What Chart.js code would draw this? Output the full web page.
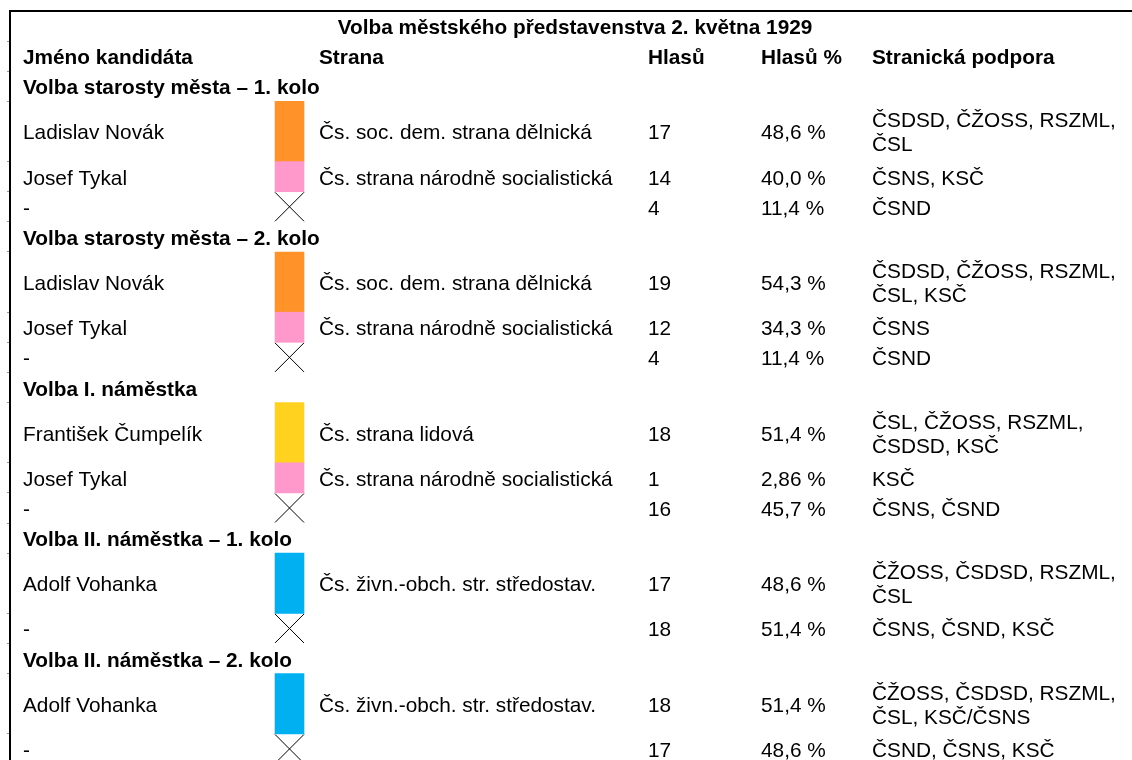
<!DOCTYPE html>
<html lang="cs">
<head>
<meta charset="utf-8">
<title>Volba městského představenstva 2. května 1929</title>
<script src="https://cdn.jsdelivr.net/npm/chart.js@4.4.1/dist/chart.umd.min.js"></script>
<style>
  html, body { margin: 0; padding: 0; background: #fff; overflow: hidden; }
  canvas { display: block; }
</style>
</head>
<body>
<canvas id="board" width="1132" height="764"></canvas>
<script>
// Table data
const title = 'Volba městského představenstva 2. května 1929';
const headers = ['Jméno kandidáta', 'Strana', 'Hlasů', 'Hlasů %', 'Stranická podpora'];
const sections = [
    'Volba starosty města – 1. kolo',
    'Volba starosty města – 2. kolo',
    'Volba I. náměstka',
    'Volba II. náměstka – 1. kolo',
    'Volba II. náměstka – 2. kolo'
];
const rowSection = [0, 0, 0, 1, 1, 1, 2, 2, 2, 3, 3, 4, 4];
const names = [
    'Ladislav Novák', 'Josef Tykal', '-',
    'Ladislav Novák', 'Josef Tykal', '-',
    'František Čumpelík', 'Josef Tykal', '-',
    'Adolf Vohanka', '-',
    'Adolf Vohanka', '-'
];
const parties = [
    'Čs. soc. dem. strana dělnická', 'Čs. strana národně socialistická', '',
    'Čs. soc. dem. strana dělnická', 'Čs. strana národně socialistická', '',
    'Čs. strana lidová', 'Čs. strana národně socialistická', '',
    'Čs. živn.-obch. str. středostav.', '',
    'Čs. živn.-obch. str. středostav.', ''
];
const partyColors = [
    '#FF9229', '#FF99CC', null,
    '#FF9229', '#FF99CC', null,
    '#FFD21F', '#FF99CC', null,
    '#00B0F0', null,
    '#00B0F0', null
];
const votes = [17, 14, 4, 19, 12, 4, 18, 1, 16, 17, 18, 18, 17];
const votePercents = [48.6, 40.0, 11.4, 54.3, 34.3, 11.4, 51.4, 2.86, 45.7, 48.6, 51.4, 51.4, 48.6];
const support = [
    ['ČSDSD, ČŽOSS, RSZML,', 'ČSL'], ['ČSNS, KSČ'], ['ČSND'],
    ['ČSDSD, ČŽOSS, RSZML,', 'ČSL, KSČ'], ['ČSNS'], ['ČSND'],
    ['ČSL, ČŽOSS, RSZML,', 'ČSDSD, KSČ'], ['KSČ'], ['ČSNS, ČSND'],
    ['ČŽOSS, ČSDSD, RSZML,', 'ČSL'], ['ČSNS, ČSND, KSČ'],
    ['ČŽOSS, ČSDSD, RSZML,', 'ČSL, KSČ/ČSNS'], ['ČSND, ČSNS, KSČ']
];

// Layout
const FONT = "'Liberation Sans', Arial, sans-serif";
const FONT_SIZE = 20.8;
const BASELINE_SHIFT = 8;     // px below row centre
const LINE_STEP = 24;         // px between wrapped lines
const colX = { name: 23, swatch: 289.5, party: 319, votes: 648, pct: 761, support: 872, title: 575 };

// work out the row grid (in row units)
let unit = 2; // title row + header row
const sectionTop = [];
const rowTop = [];
const rowSpan = [];
names.forEach(function (n, i) {
    if (i === 0 || rowSection[i] !== rowSection[i - 1]) {
        sectionTop.push(unit);
        unit += 1;
    }
    rowTop.push(unit);
    rowSpan.push(support[i].length);
    unit += support[i].length;
});
const totalUnits = unit;

const boundaries = [1, 2];
sectionTop.forEach(s => boundaries.push(s + 1));
rowTop.forEach((t, i) => boundaries.push(t + rowSpan[i]));
const tickUnits = [...new Set(boundaries)].filter(u => u < totalUnits).sort((a, b) => a - b);

function fmtPct(v) {
    return (v < 10 ? v.toFixed(2) : v.toFixed(1)).replace('.', ',') + ' %';
}

const swatchData = [];
const crossData = [];
const swatchColors = [];
names.forEach(function (n, i) {
    if (partyColors[i]) {
        swatchData.push({ x: colX.swatch, y: [rowTop[i], rowTop[i] + rowSpan[i]] });
        swatchColors.push(partyColors[i]);
    } else {
        crossData.push({ x: colX.swatch, y: rowTop[i] + rowSpan[i] / 2 });
    }
});

const tableText = {
    id: 'tableText',
    afterDatasetsDraw(chart) {
        const { ctx, scales: { x, y } } = chart;
        ctx.save();
        ctx.fillStyle = '#000';
        ctx.textBaseline = 'alphabetic';

        function put(text, col, centreUnit, bold, align) {
            ctx.font = (bold ? 'bold ' : '') + FONT_SIZE + 'px ' + FONT;
            ctx.textAlign = align || 'left';
            ctx.fillText(text, x.getPixelForValue(col), y.getPixelForValue(centreUnit) + BASELINE_SHIFT);
        }

        put(title, colX.title, 0.5, true, 'center');
        const hx = [colX.name, colX.party, colX.votes, colX.pct, colX.support];
        headers.forEach((h, k) => put(h, hx[k], 1.5, true));
        sections.forEach((s, k) => put(s, colX.name, sectionTop[k] + 0.5, true));

        names.forEach(function (n, i) {
            const mid = rowTop[i] + rowSpan[i] / 2;
            put(n, colX.name, mid, false);
            if (parties[i]) put(parties[i], colX.party, mid, false);
            put(String(votes[i]), colX.votes, mid, false);
            put(fmtPct(votePercents[i]), colX.pct, mid, false);
            const lines = support[i];
            ctx.font = FONT_SIZE + 'px ' + FONT;
            ctx.textAlign = 'left';
            lines.forEach(function (line, k) {
                const off = (k - (lines.length - 1) / 2) * LINE_STEP;
                ctx.fillText(line, x.getPixelForValue(colX.support),
                    y.getPixelForValue(mid) + BASELINE_SHIFT + off);
            });
        });
        ctx.restore();
    }
};

new Chart(document.getElementById('board'), {
    type: 'bar',
    data: {
        datasets: [{
            label: 'Strana',
            data: swatchData,
            backgroundColor: swatchColors,
            borderWidth: 0,
            barThickness: 29
        }, {
            type: 'scatter',
            label: 'bez strany',
            data: crossData,
            pointStyle: 'crossRot',
            pointRadius: 20.5,
            borderColor: '#000',
            borderWidth: 1,
            clip: false
        }]
    },
    options: {
        responsive: false,
        animation: false,
        devicePixelRatio: 1,
        events: [],
        layout: { padding: 0, autoPadding: false },
        plugins: { legend: { display: false }, tooltip: { enabled: false } },
        scales: {
            x: {
                type: 'linear',
                position: 'top',
                offset: false,
                min: 10,
                max: 1132,
                ticks: { display: false },
                grid: { display: false, offset: false },
                border: { display: true, color: '#000', width: 2 },
                afterFit(scale) { scale.height = 11; }
            },
            y: {
                type: 'linear',
                reverse: true,
                min: 0,
                max: totalUnits,
                ticks: { display: false },
                afterBuildTicks(scale) { scale.ticks = tickUnits.map(v => ({ value: v })); },
                grid: { drawOnChartArea: false, drawTicks: true, tickLength: 3, color: '#999' },
                border: { display: true, color: '#000', width: 2 },
                afterFit(scale) { scale.width = 10; }
            }
        }
    },
    plugins: [tableText]
});
</script>
</body>
</html>
